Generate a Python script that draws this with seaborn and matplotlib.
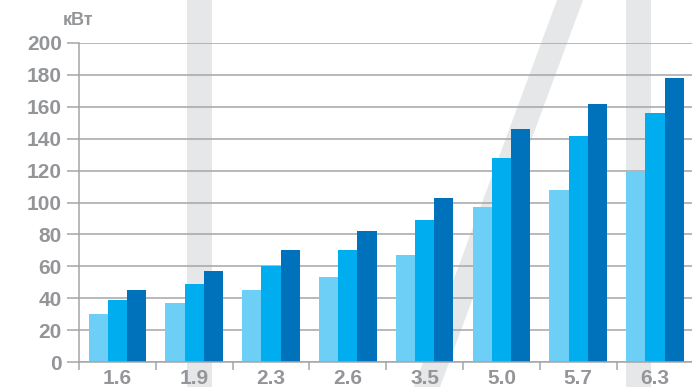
import numpy as np
import pandas as pd
import matplotlib
matplotlib.use("Agg")
import matplotlib.pyplot as plt
from matplotlib.patches import Polygon
import seaborn as sns

# Model sizes and power output (kW) for three configurations
models = ["1.6", "1.9", "2.3", "2.6", "3.5", "5.0", "5.7", "6.3"]
low = [30, 37, 45, 53, 67, 97, 108, 120]
mid = [39, 49, 60, 70, 89, 128, 142, 156]
high = [45, 57, 70, 82, 103, 146, 162, 178]
series_names = ["low", "mid", "high"]
yticks = list(range(0, 201, 20))

colors = ["#6DCFF6", "#00AEEF", "#0072BC"]
gray_text = "#939598"
grid_gray = "#A3A5A8"
band_gray = "#E6E7E8"

df = pd.DataFrame({
    "model": models * 3,
    "kw": low + mid + high,
    "series": [s for s in series_names for _ in models],
})

sns.set_theme(style="white")
plt.rcParams["font.family"] = ["Liberation Sans", "DejaVu Sans"]

W, H = 692, 387
fig = plt.figure(figsize=(W / 100, H / 100), dpi=100)
fig.patch.set_facecolor("white")

def fpt(x, y):
    return (x / W, 1 - y / H)

# decorative background strokes behind the plot
for pts in [
    [(187, 0), (212, 0), (212, H), (187, H)],
    [(626, 0), (651, 0), (651, H), (626, H)],
    [(557, 0), (583, 0), (440, H), (414, H)],
]:
    fig.patches.append(Polygon([fpt(*p) for p in pts], closed=True,
                               transform=fig.transFigure, facecolor=band_gray,
                               edgecolor="none", zorder=-5))

left, right, top, bottom = 79, 692 + 1.5, 43, 362
ax = fig.add_axes([left / W, 1 - bottom / H, (right - left) / W, (bottom - top) / H])
ax.patch.set_alpha(0)

sns.barplot(data=df, x="model", y="kw", hue="series", palette=colors,
            width=0.75, gap=0, linewidth=0, saturation=1, legend=False, ax=ax, zorder=3)

ax.set_ylim(0, 200)
ax.set_xlim(-0.5, len(models) - 0.5)
ax.set_yticks(yticks)
ax.set_yticklabels([str(t) for t in yticks])
ax.set_xlabel("")
ax.set_ylabel("")

# horizontal grid lines
for t in yticks:
    ax.axhline(t, color=grid_gray, lw=1.1, zorder=1)

# category separators as ticks on the x axis
ax.set_xticks(np.arange(len(models)))
ax.set_xticklabels(models)
ax.set_xticks(np.arange(len(models) + 1) - 0.5, minor=True)
ax.tick_params(axis="x", which="major", length=0, pad=5, labelsize=15,
               labelcolor=gray_text)
ax.tick_params(axis="x", which="minor", length=6, width=1.1, color=grid_gray,
               direction="out", bottom=True)
ax.tick_params(axis="y", length=9, width=1.1, color=grid_gray, pad=3.5,
               labelsize=15, labelcolor=gray_text, left=True)
for lab in ax.get_xticklabels() + ax.get_yticklabels():
    lab.set_fontweight("bold")

for side in ["top", "right"]:
    ax.spines[side].set_visible(False)
for side in ["left", "bottom"]:
    ax.spines[side].set_color(grid_gray)
    ax.spines[side].set_linewidth(1.1)
    ax.spines[side].set_zorder(4)

fig.text(*fpt(78, 20.5), "кВт", ha="center", va="center", fontsize=13,
         fontweight="bold", color=gray_text)

fig.savefig("out.png", dpi=100)
